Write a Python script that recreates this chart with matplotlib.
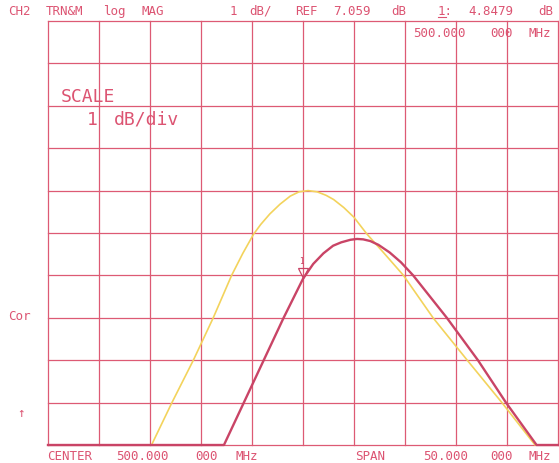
import matplotlib
matplotlib.use("Agg")
import matplotlib.pyplot as plt
from matplotlib.lines import Line2D

# trace values in grid divisions (x: 0..10 across span, y: 0..10 from bottom)
YELLOW_X = [0, 2.03, 2.43, 2.85, 3.24, 3.6, 3.82, 4.03, 4.17, 4.35, 4.55, 4.75,
            4.92, 5.1, 5.28, 5.45, 5.6, 5.8, 6.0, 6.25, 6.57, 6.97, 7.55, 8.22,
            8.9, 9.55, 10]
YELLOW_Y = [0, 0, 1, 2, 3, 4, 4.52, 4.97, 5.2, 5.45, 5.68, 5.87,
            5.97, 6.0, 5.97, 5.89, 5.79, 5.6, 5.37, 4.98, 4.55, 4.0, 3, 2,
            1, 0, 0]

RED_X = [0, 3.45, 3.84, 4.23, 4.62, 5.0, 5.2, 5.4, 5.59, 5.75, 5.93, 6.06,
         6.18, 6.32, 6.48, 6.7, 6.92, 7.16, 7.82, 8.43, 8.98, 9.58, 10]
RED_Y = [0, 0, 1, 2, 3, 3.92, 4.27, 4.52, 4.7, 4.78, 4.84, 4.86,
         4.85, 4.81, 4.72, 4.54, 4.31, 4.0, 3, 2, 1, 0, 0]

MARKER_X = [5.0]
MARKER_Y = [3.92]

N_DIV = 10

W, H = 559, 464
INK = "#dc5472"
GRID = "#dd5a74"
RED = "#c94466"
YELLOW = "#f3d35c"
MONO = "DejaVu Sans Mono"

fig = plt.figure(figsize=(W / 100, H / 100), dpi=100)
fig.patch.set_facecolor("white")
ax = fig.add_axes([48 / W, 18 / H, 510 / W, 424 / H])
ax.set_xlim(0, N_DIV)
ax.set_ylim(0, N_DIV)
ax.axis("off")

for i in range(N_DIV + 1):
    ax.axvline(i, color=GRID, lw=0.9, clip_on=False, zorder=1)
    ax.axhline(i, color=GRID, lw=0.9, clip_on=False, zorder=1)

ax.plot(YELLOW_X, YELLOW_Y, color=YELLOW, lw=1.2, zorder=3, clip_on=False)
ax.plot(RED_X, RED_Y, color=RED, lw=1.7, zorder=4, clip_on=False)

# marker 1: open triangle pointing down onto the trace
ax.plot(MARKER_X, [y + 0.13 for y in MARKER_Y], marker="v", ms=7, mfc="none",
        mec=RED, mew=0.9, ls="none", zorder=5)
ax.text(MARKER_X[0] - 0.03, MARKER_Y[0] + 0.42, "1", color=RED, fontsize=5.5,
        family=MONO, ha="center", va="center", zorder=5)


def label(x, y, s, pitch, size):
    # plotter text: words on a fixed character pitch, y is the baseline (px)
    pos = 0
    for word in s.split(" "):
        if word:
            fig.text((x + pos * pitch) / W, 1 - y / H, word, color=INK,
                     fontsize=size, family=MONO, ha="left", va="baseline")
        pos += len(word) + 1


label(8, 15, "CH2 TRN&M log MAG", 9.5, 9)
label(230, 15, "1 dB/", 9.5, 9)
label(295, 15, "REF 7.059 dB", 9.6, 9)
label(438, 15, "1: 4.8479 dB", 10.0, 9)
fig.add_artist(Line2D([438 / W, 446 / W], [1 - 18 / H, 1 - 18 / H],
                      color=INK, lw=0.8))
label(413, 37, "500.000 000 MHz", 9.6, 9)
label(61, 102, "SCALE", 13.8, 13)
label(87, 125, "1 dB/div", 13.5, 13)
label(8, 320, "Cor", 9.5, 9)
fig.text(21 / W, 1 - 414 / H, "↑", color=INK, fontsize=9, family=MONO,
         ha="center", va="center")
label(47, 460, "CENTER 500.000 000 MHz", 9.9, 9)
label(355, 460, "SPAN", 9.6, 9)
label(423, 460, "50.000 000 MHz", 9.6, 9)

fig.savefig("out.png", dpi=100)
